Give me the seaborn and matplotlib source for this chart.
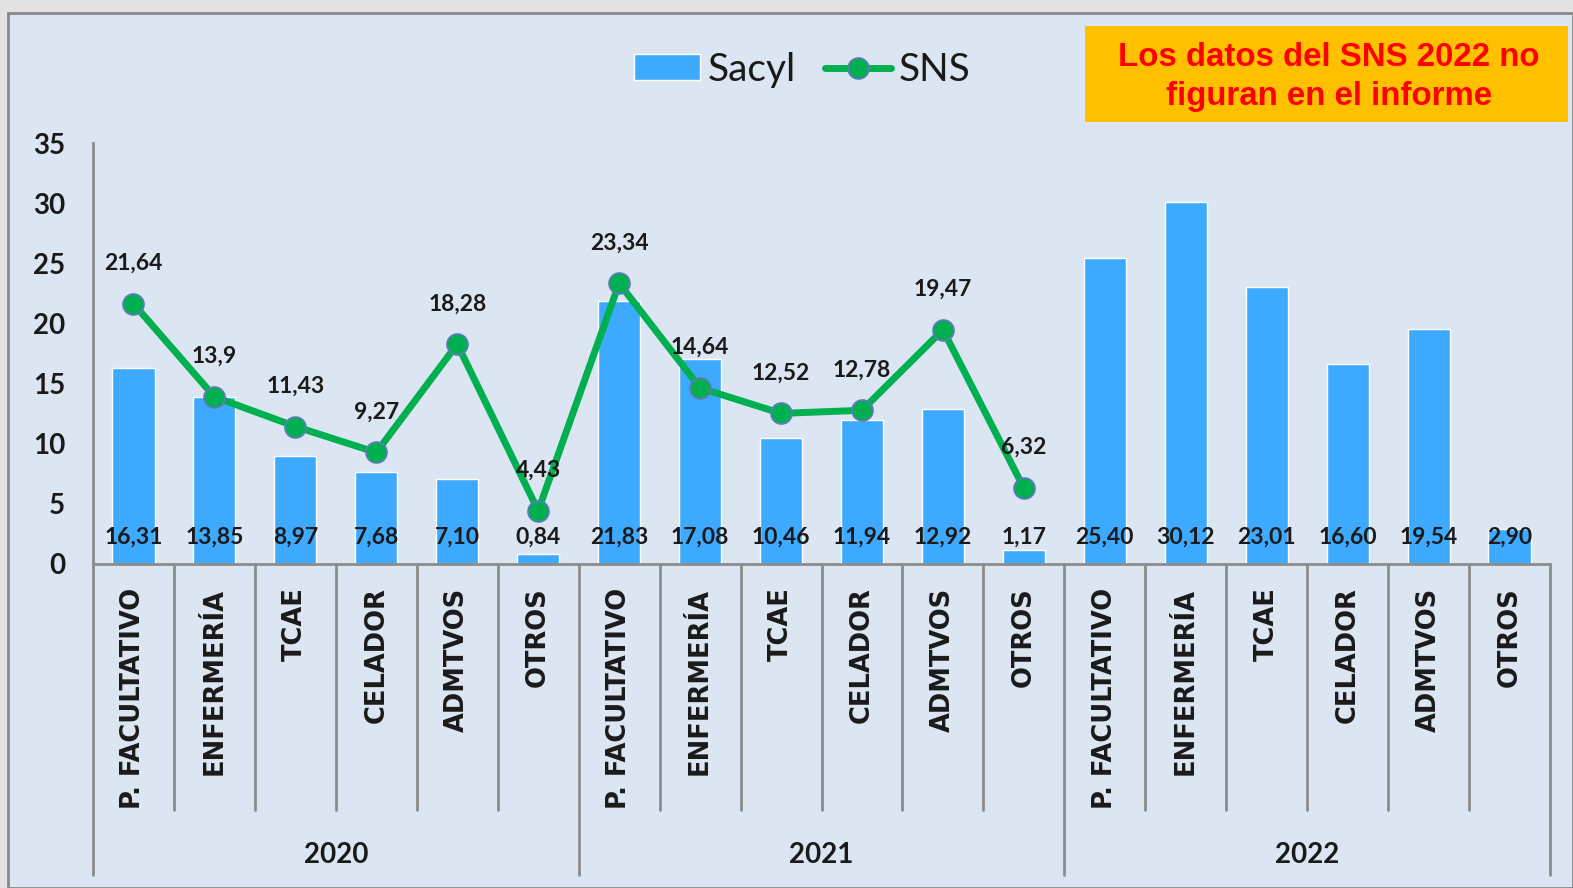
import matplotlib
matplotlib.use("Agg")
import matplotlib.pyplot as plt
import matplotlib.patches as mpatches
from matplotlib.font_manager import FontProperties
import seaborn as sns
import pandas as pd

# chart data
years = ["2020", "2021", "2022"]
categories = ["P. FACULTATIVO", "ENFERMERÍA", "TCAE", "CELADOR", "ADMTVOS", "OTROS"]
sacyl_2020 = [16.31, 13.85, 8.97, 7.68, 7.10, 0.84]
sacyl_2021 = [21.83, 17.08, 10.46, 11.94, 12.92, 1.17]
sacyl_2022 = [25.40, 30.12, 23.01, 16.60, 19.54, 2.90]
sns_2020 = [21.64, 13.9, 11.43, 9.27, 18.28, 4.43]
sns_2021 = [23.34, 14.64, 12.52, 12.78, 19.47, 6.32]
y_ticks = [0, 5, 10, 15, 20, 25, 30, 35]
note = "Los datos del SNS 2022 no\nfiguran en el informe"

BAR = "#3DAAFF"
GREEN = "#00B050"
GRAY = "#8C8C8C"
PANEL = "#DCE6F2"

df = pd.DataFrame({
    "year": [y for y in years for _ in categories],
    "cat": categories * len(years),
    "sacyl": sacyl_2020 + sacyl_2021 + sacyl_2022,
})
df["key"] = df["year"] + " " + df["cat"]
df["pos"] = range(len(df))

line_df = pd.DataFrame({"pos": list(range(12)), "sns": sns_2020 + sns_2021})

sns.set_style("white")
plt.rcParams["font.family"] = ["Lato", "DejaVu Sans"]

W, H = 1573, 888
fig = plt.figure(figsize=(W / 100, H / 100), dpi=100, facecolor="#E2E2E2")
fig.patches.append(mpatches.Rectangle((8 / W, 0), 1 - 8 / W, 1 - 13 / H, transform=fig.transFigure,
                                      facecolor=PANEL, edgecolor="#888888", lw=2, zorder=-10))

ax = fig.add_axes([93 / W, 1 - 564 / H, (1550 - 93) / W, (564 - 143) / H])
ax.set_facecolor("none")

sns.barplot(data=df, x="key", y="sacyl", color=BAR, saturation=1, width=0.52,
            ax=ax, label="Sacyl", zorder=2)
sns.lineplot(data=line_df, x="pos", y="sns", ax=ax, color=GREEN, lw=5, marker="o",
             markersize=15, markerfacecolor=GREEN, markeredgecolor="#5A7DB8",
             markeredgewidth=1.3, label="SNS", zorder=3)

ax.set_xlim(-0.5, len(df) - 0.5)
ax.set_ylim(0, 35)
ax.set_yticks(y_ticks)
ax.set_xlabel("")
ax.set_ylabel("")

for s in ["top", "right"]:
    ax.spines[s].set_visible(False)
for s in ["left", "bottom"]:
    ax.spines[s].set_color(GRAY)
    ax.spines[s].set_linewidth(2)

ax.tick_params(axis="y", length=8, width=1.5, color=GRAY, pad=12, labelsize=20)
for t in ax.get_yticklabels():
    t.set_fontweight("bold")
    t.set_color("#1A1A1A")

cat_font = FontProperties(family="DejaVu Sans", weight="bold", size=18.5)
ax.set_xticks(df["pos"])
ax.set_xticklabels(df["cat"], rotation=90, fontproperties=cat_font, color="#1A1A1A")
ax.tick_params(axis="x", length=0, pad=17)

# value labels
for p, v in zip(df["pos"], df["sacyl"]):
    ax.text(p, 2.25, f"{v:.2f}".replace(".", ","), ha="center", va="center",
            fontsize=16.5, fontweight="bold", color="#1A1A1A", zorder=4)
for p, v in zip(line_df["pos"], line_df["sns"]):
    ax.annotate(str(v).replace(".", ","), (p, v), xytext=(0, 29), textcoords="offset points",
                ha="center", va="center", fontsize=16.5, fontweight="bold",
                color="#1A1A1A", zorder=4)

# category separators and year labels below the axis
xt = ax.get_xaxis_transform()
short_y, long_y = -(810 - 564) / 421, -(875 - 564) / 421
for i in range(len(df) + 1):
    bottom = long_y if i % len(categories) == 0 else short_y
    ax.plot([i - 0.5, i - 0.5], [0, bottom], transform=xt, clip_on=False, color=GRAY, lw=2)
for j, y in enumerate(years):
    mid = j * len(categories) + (len(categories) - 1) / 2
    ax.text(mid, -(855 - 564) / 421, y, transform=xt, ha="center", va="center",
            fontsize=20, fontweight="bold", color="#1A1A1A")

handles, labels = ax.get_legend_handles_labels()
order = [labels.index("Sacyl"), labels.index("SNS")]
leg = ax.legend([handles[i] for i in order], [labels[i] for i in order],
                loc="center", bbox_to_anchor=(802 / W, 1 - 70 / H), bbox_transform=fig.transFigure,
                ncol=2, frameon=False, fontsize=28, handlelength=1.7, handleheight=0.65,
                handletextpad=0.2, columnspacing=0.75, borderpad=0)
for t in leg.get_texts():
    t.set_color("#1A1A1A")

# orange note box
fig.patches.append(mpatches.Rectangle((1085 / W, 1 - 122 / H), (1568 - 1085) / W, 96 / H,
                                      transform=fig.transFigure, facecolor="#FFC000",
                                      edgecolor="none", zorder=1))
fig.text(1329 / W, 1 - 77 / H, note, ha="center", va="center", color="#FF0000",
         fontsize=23.8, fontweight="bold", family="Liberation Sans", linespacing=1.3)

fig.savefig("out.png", dpi=100, facecolor=fig.get_facecolor())
